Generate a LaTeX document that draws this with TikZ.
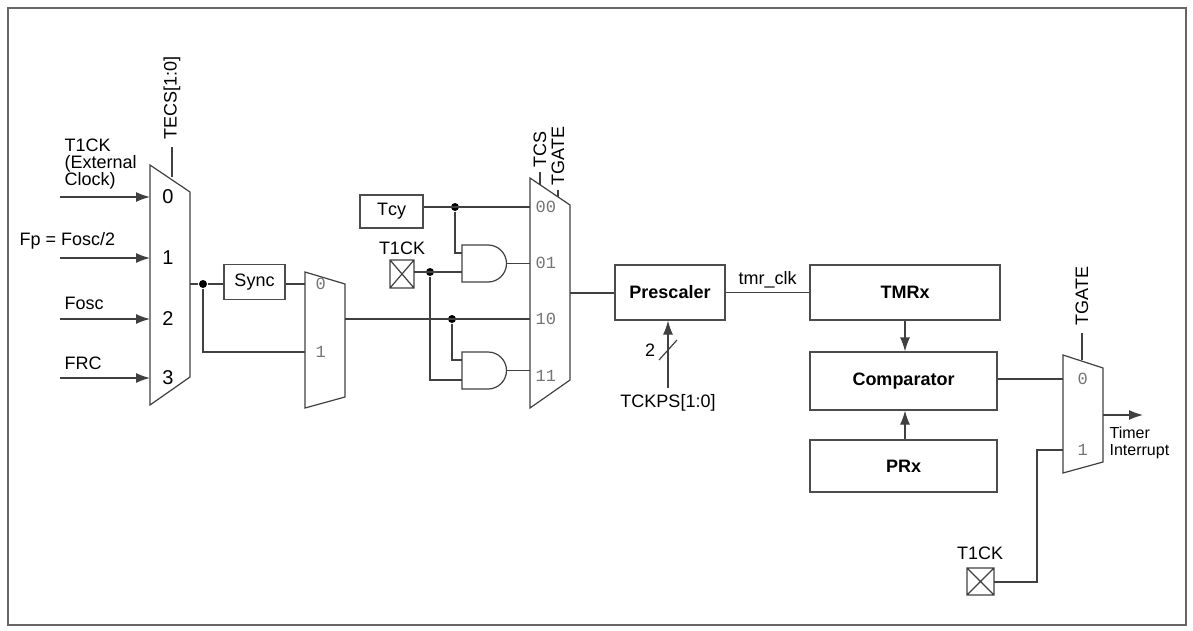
\documentclass[tikz,border=0pt]{standalone}
\usepackage{fontspec}
\setmainfont{Liberation Sans}
\newfontfamily\monof{Liberation Mono}
\usetikzlibrary{arrows.meta}
\begin{document}
\begin{tikzpicture}[x=0.5pt,y=-0.5pt,line width=0.6pt,
  every node/.style={font=\fontsize{9}{9.5}\selectfont,inner sep=1pt},
  wire/.style={draw=black!75},
  arr/.style={wire,-{Latex[length=7pt,width=5pt]}},
  blk/.style={draw=black!70,inner sep=0pt},
  pin/.style={font=\monof\fontsize{8.5}{9}\selectfont,text=black!55},
  dot/.style={circle,fill=black,inner sep=0pt,minimum size=4pt},
  rot/.style={rotate=90,anchor=west}]
\useasboundingbox (0,0) rectangle (1193,631);
\draw[black!60,line width=0.8pt] (8,8) rectangle (1186,625);
% mux1
\draw[black!75] (150,165) -- (190,192) -- (190,377) -- (150,405) -- cycle;
\foreach \y/\l in {197/0,258/1,319/2,378/3}{
  \coordinate (m1in\l) at (150,\y);
  \coordinate (s\l) at (60,\y);
  \draw[arr] (s\l) -- (m1in\l);
  \node at (168,\y) {\fontsize{10}{10}\selectfont\l};}
\coordinate (m1s) at (172,177);
\coordinate (m1st) at (172,147);
\draw[wire] (m1s) -- (m1st);
\node[rot] at (172,142) {TECS[1:0]};
\node[align=left,anchor=south west,font=\fontsize{9}{8.5}\selectfont] at (62,192) {T1CK\\(External\\Clock)};
\node[anchor=south west] at (17,252) {F\textsc{p} = F\textsc{osc}/2};
\node[anchor=south west] at (62,312) {F\textsc{osc}};
\node[anchor=south west] at (62,372) {FRC};
\coordinate (m1out) at (190,284);
\node[dot] (d1) at (203,284) {};
\node[blk,minimum width=30.5pt,minimum height=17.5pt] (sync) at (254.5,282) {Sync};
% mux2
\draw[black!75] (305,272) -- (345,284) -- (345,397) -- (305,408) -- cycle;
\coordinate (m2i0) at (305,284);
\coordinate (m2i1) at (305,352);
\coordinate (m2out) at (345,319);
\node[pin,anchor=west] at (313,284) {0};
\node[pin,anchor=west] at (313,352) {1};
\draw[wire] (m1out) -- (d1) -- (sync.west |- d1);
\draw[wire] (sync.east |- m2i0) -- (m2i0);
\draw[wire] (d1) |- (m2i1);
% Tcy
\node[blk,minimum width=31.5pt,minimum height=16.5pt] (tcy) at (391.5,211.5) {T\textsc{cy}};
% T1CK box
\draw[black!75] (390,260) rectangle (414,288) (390,260) -- (414,288) (390,288) -- (414,260);
\coordinate (x1) at (414,272);
\node at (402,248) {T1CK};
% mux3
\draw[black!75] (530,178) -- (570,205) -- (570,380) -- (530,408) -- cycle;
\foreach \y/\l in {207/00,263/01,319/10,376/11}{
  \coordinate (m3i\l) at (530,\y);
  \node[pin,anchor=west] at (533,\y) {\l};}
\coordinate (m3out) at (570,293);
\draw[wire] (540,185) -- (540,172); \node[rot] at (540,170) {TCS};
\draw[wire] (558,197) -- (558,190); \node[rot] at (558,188) {TGATE};
% AND gates
\foreach \n/\y in {a1/245,a2/352}{
  \draw[black!75] (462,\y) -- (488,\y) arc[start angle=90,end angle=-90,radius=9.25pt] -- (462,\y+37) -- cycle;
  \coordinate (\n a) at (462,\y+8);
  \coordinate (\n b) at (462,\y+28);
  \coordinate (\n o) at (506.5,\y+18.5);}
\node[dot] (d2) at (455,207) {};
\node[dot] (d3) at (430,272) {};
\node[dot] (d4) at (452,319) {};
\draw[wire] (tcy.east |- m3i00) -- (m3i00);
\draw[wire] (d2) |- (a1a);
\draw[wire] (x1) -- (x1 -| a1b) ;
\draw[wire] (d3) |- (a2b);
\draw[wire] (m2out) -- (m3i10);
\draw[wire] (d4) |- (a2a);
\draw[wire] (a1o) -- (a1o -| m3i01);
\draw[wire] (a2o) -- (a2o -| m3i11);
% prescaler etc.
\node[blk,minimum width=55pt,minimum height=27.5pt] (pre) at (670,292.5) {\bfseries Prescaler};
\node[blk,minimum width=95pt,minimum height=27.5pt] (tmr) at (905,292.5) {\bfseries TMRx};
\node[blk,minimum width=93.5pt,minimum height=29pt] (cmp) at (903.5,381) {\bfseries Comparator};
\node[blk,minimum width=93.5pt,minimum height=26pt] (prx) at (903.5,466) {\bfseries PRx};
\draw[wire] (m3out) -- (m3out -| pre.west);
\draw[wire] (pre.east) -- node[above=1pt] {tmr\_clk} (tmr.west);
\draw[arr] (tmr.south -| 905,0) -- (cmp.north -| 905,0);
\draw[arr] (prx.north -| 905,0) -- (cmp.south -| 905,0);
\coordinate (tck) at (668,388);
\draw[arr] (tck) -- (pre.south -| tck);
\draw[wire] (659,360) -- (677,340);
\node at (650,350) {2};
\node[anchor=north] at (668,392) {TCKPS[1:0]};
% mux4
\draw[black!75] (1063,355) -- (1103,368) -- (1103,462) -- (1063,473) -- cycle;
\coordinate (m4i0) at (1063,379);
\coordinate (m4i1) at (1063,450);
\coordinate (m4out) at (1103,415);
\coordinate (ti) at (1143,415);
\node[pin,anchor=west] at (1075,379) {0};
\node[pin,anchor=west] at (1075,450) {1};
\draw[wire] (1082,360) -- (1082,333); \node[rot] at (1082,328) {TGATE};
\draw[wire] (cmp.east |- m4i0) -- (m4i0);
\draw[arr] (m4out) -- (ti);
\node[align=left,anchor=north west,font=\fontsize{8}{8.5}\selectfont] at (1107,424) {Timer\\Interrupt};
\draw[black!75] (967,568) rectangle (994,595) (967,568) -- (994,595) (967,595) -- (994,568);
\coordinate (x2) at (994,582);
\node at (980,553) {T1CK};
\draw[wire] (x2) -| (1037,450) -- (m4i1);
\end{tikzpicture}
\end{document}
